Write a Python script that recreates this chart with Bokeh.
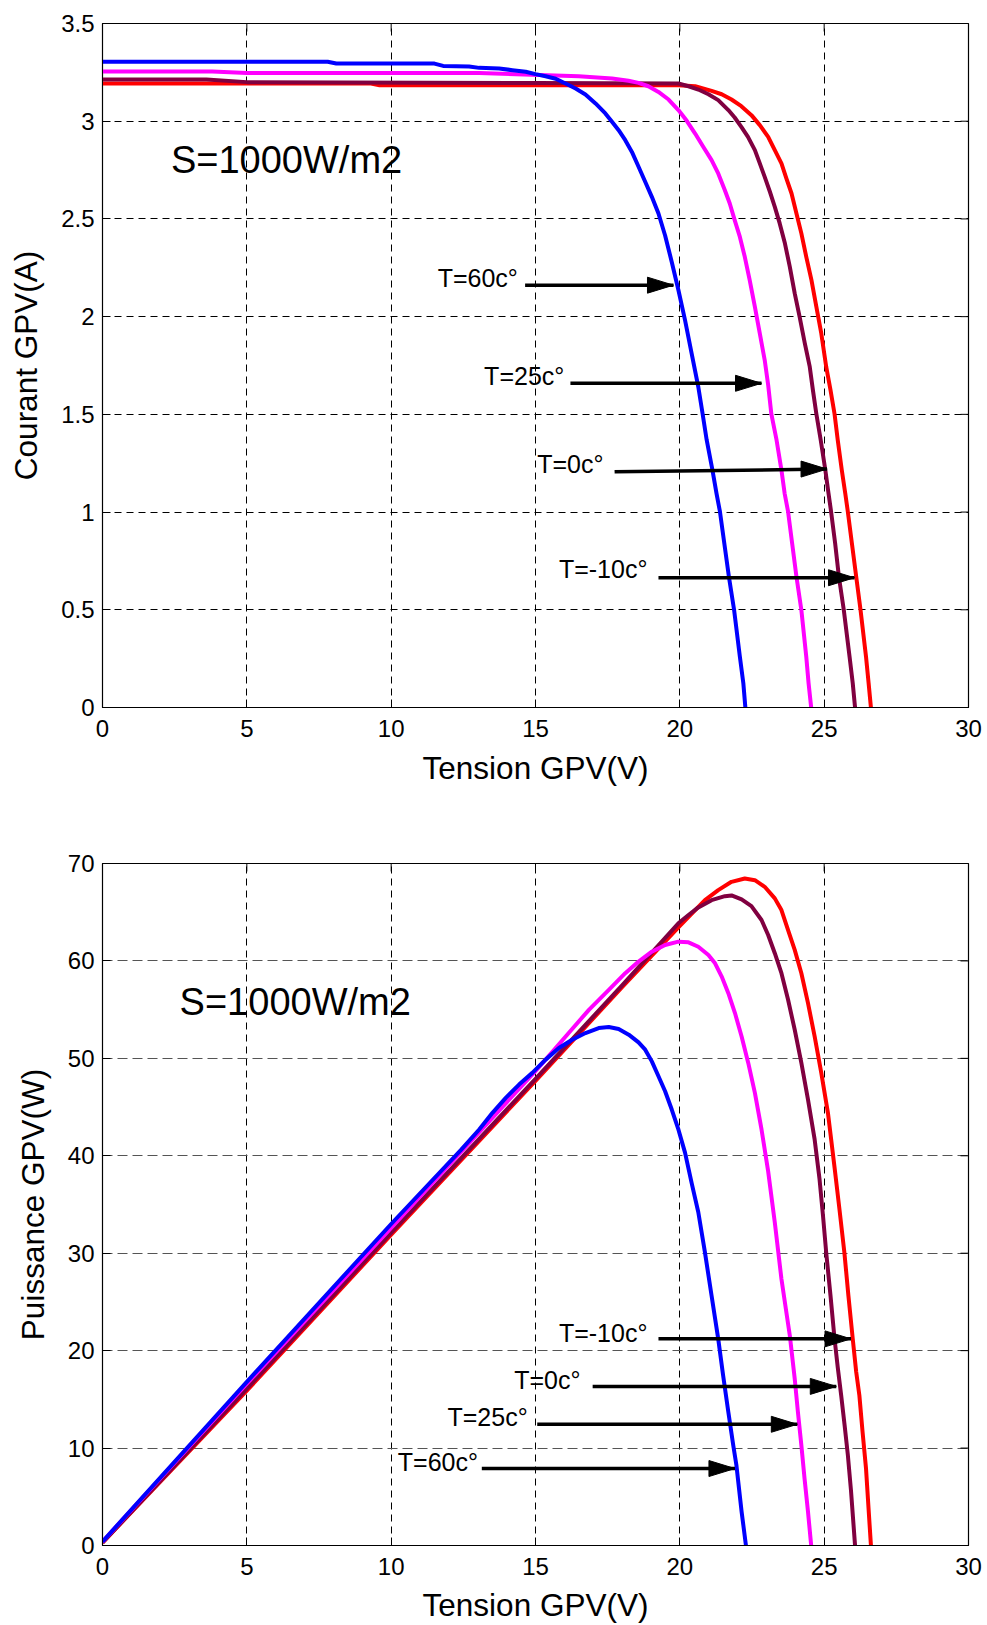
from bokeh.plotting import figure
from bokeh.layouts import column
from bokeh.models import Range1d, FixedTicker, NumeralTickFormatter
from bokeh.core.properties import value
from bokeh.embed import file_html
from bokeh.resources import INLINE

# ---------------- data ----------------
temps = ["T=-10c°", "T=0c°", "T=25c°", "T=60c°"]
colors = ["#FF0000", "#800040", "#FF00FF", "#0000FF"]

# I-V curves  (V, A)
iv_v_m10 = [0, 9.3, 9.6, 19.95, 20.53, 21.10, 21.45, 21.79, 22.13, 22.48, 22.77, 23.06, 23.29, 23.52, 23.69, 23.87, 24.04, 24.21, 24.38, 24.56, 24.73, 24.90, 25.07, 25.22, 25.36, 25.47, 25.61, 25.73, 25.82, 25.96, 26.11, 26.26, 26.45, 26.54, 26.62]
iv_i_m10 = [3.193, 3.193, 3.184, 3.184, 3.179, 3.155, 3.138, 3.111, 3.077, 3.031, 2.980, 2.920, 2.852, 2.784, 2.707, 2.630, 2.528, 2.426, 2.306, 2.187, 2.050, 1.914, 1.744, 1.624, 1.502, 1.369, 1.215, 1.096, 1.002, 0.840, 0.669, 0.499, 0.260, 0.124, 0.0]

iv_v_0 = [0, 3.6, 5.0, 15.0, 19.95, 20.30, 20.64, 20.99, 21.33, 21.68, 21.90, 22.13, 22.36, 22.60, 22.77, 22.94, 23.12, 23.29, 23.46, 23.64, 23.81, 23.98, 24.15, 24.33, 24.50, 24.61, 24.73, 24.88, 25.04, 25.15, 25.24, 25.38, 25.51, 25.68, 25.88, 25.99, 26.07]
iv_i_0 = [3.214, 3.214, 3.200, 3.195, 3.193, 3.179, 3.162, 3.138, 3.108, 3.057, 3.019, 2.971, 2.920, 2.852, 2.784, 2.715, 2.639, 2.562, 2.477, 2.375, 2.255, 2.119, 1.999, 1.863, 1.744, 1.624, 1.502, 1.369, 1.215, 1.096, 1.002, 0.840, 0.669, 0.499, 0.260, 0.124, 0.0]

iv_v_25 = [0, 3.8, 5.0, 13.05, 16.5, 17.65, 18.22, 18.57, 18.91, 19.26, 19.61, 19.95, 20.24, 20.53, 20.81, 21.10, 21.33, 21.56, 21.73, 21.90, 22.08, 22.25, 22.42, 22.60, 22.77, 22.94, 23.06, 23.17, 23.35, 23.52, 23.63, 23.75, 23.89, 24.04, 24.21, 24.38, 24.46, 24.55]
iv_i_25 = [3.255, 3.255, 3.247, 3.247, 3.230, 3.219, 3.207, 3.196, 3.179, 3.150, 3.111, 3.057, 3.002, 2.937, 2.869, 2.801, 2.733, 2.647, 2.579, 2.494, 2.408, 2.306, 2.187, 2.050, 1.914, 1.778, 1.650, 1.502, 1.369, 1.215, 1.096, 1.002, 0.840, 0.669, 0.499, 0.260, 0.124, 0.0]

iv_v_60 = [0, 7.8, 8.1, 11.5, 11.8, 12.7, 13.05, 13.74, 14.20, 14.66, 15.0, 15.35, 15.7, 16.04, 16.39, 16.73, 17.08, 17.42, 17.65, 17.88, 18.11, 18.34, 18.57, 18.80, 19.03, 19.26, 19.49, 19.72, 19.95, 20.18, 20.41, 20.64, 20.79, 20.93, 21.13, 21.27, 21.39, 21.54, 21.70, 21.88, 22.08, 22.20, 22.27]
iv_i_60 = [3.304, 3.304, 3.295, 3.295, 3.283, 3.280, 3.273, 3.270, 3.261, 3.253, 3.241, 3.230, 3.217, 3.193, 3.167, 3.137, 3.091, 3.040, 2.997, 2.954, 2.903, 2.843, 2.767, 2.690, 2.613, 2.528, 2.415, 2.280, 2.136, 1.982, 1.811, 1.640, 1.502, 1.369, 1.215, 1.096, 1.002, 0.840, 0.669, 0.499, 0.260, 0.124, 0.0]

# P-V curves  (V, W)
pv_v_m10 = [0, 5, 10, 15, 18, 20, 20.87, 21.33, 21.79, 22.25, 22.60, 22.94, 23.29, 23.52, 23.75, 23.98, 24.21, 24.44, 24.67, 24.90, 25.13, 25.36, 25.53, 25.70, 25.84, 25.99, 26.11, 26.22, 26.33, 26.45, 26.53, 26.62]
pv_p_m10 = [0.3, 15.9, 31.9, 47.7, 57.3, 63.6, 66.24, 67.27, 68.12, 68.46, 68.29, 67.61, 66.42, 65.22, 63.17, 61.13, 58.74, 55.67, 52.25, 48.51, 44.41, 38.8, 34.5, 30.08, 25.64, 21.21, 17.80, 15.40, 11.66, 7.90, 4.15, 0.0]

pv_v_0 = [0, 5, 10, 15, 18, 19.95, 20.30, 20.64, 21.10, 21.56, 21.79, 22.14, 22.48, 22.83, 23.06, 23.29, 23.52, 23.75, 23.98, 24.21, 24.44, 24.67, 24.84, 24.96, 25.07, 25.22, 25.36, 25.47, 25.59, 25.71, 25.82, 25.93, 26.07]
pv_p_0 = [0.3, 16.1, 32.1, 47.9, 57.5, 63.86, 64.71, 65.49, 66.24, 66.65, 66.72, 66.31, 65.63, 64.20, 62.66, 60.79, 58.74, 56.01, 52.94, 49.53, 45.77, 41.68, 37.58, 33.83, 30.08, 25.64, 21.21, 18.3, 15.4, 12.3, 9.3, 5.6, 0.0]

pv_v_25 = [0, 5, 10, 15, 15.35, 16.15, 16.85, 17.54, 18.11, 18.57, 19.03, 19.49, 19.95, 20.30, 20.64, 20.99, 21.22, 21.45, 21.68, 21.91, 22.14, 22.37, 22.60, 22.83, 23.06, 23.29, 23.52, 23.69, 23.81, 23.98, 24.09, 24.21, 24.32, 24.44, 24.55]
pv_p_25 = [0.4, 16.6, 32.6, 48.7, 49.87, 52.60, 54.98, 57.03, 58.74, 59.93, 60.95, 61.64, 61.98, 61.91, 61.46, 60.61, 59.76, 58.39, 56.69, 54.65, 52.25, 49.53, 46.46, 42.70, 38.4, 33.15, 27.35, 23.94, 21.55, 17.11, 13.71, 10.29, 6.88, 3.47, 0.0]

pv_v_60 = [0, 5, 10, 12.42, 13.05, 13.51, 13.97, 14.43, 14.89, 15.35, 15.81, 16.27, 16.73, 17.19, 17.54, 17.88, 18.23, 18.57, 18.80, 19.03, 19.26, 19.49, 19.72, 19.95, 20.18, 20.41, 20.64, 20.87, 21.10, 21.33, 21.50, 21.68, 21.85, 21.96, 22.14, 22.29]
pv_p_60 = [0.4, 16.8, 33.0, 40.6, 42.7, 44.41, 45.95, 47.31, 48.51, 49.87, 51.06, 51.91, 52.60, 53.11, 53.21, 53.01, 52.43, 51.64, 50.89, 49.69, 48.16, 46.62, 44.75, 42.70, 40.32, 37.2, 34.2, 30.08, 25.64, 21.21, 17.45, 13.71, 10.29, 8.24, 3.47, 0.0]

iv_series = [(iv_v_m10, iv_i_m10), (iv_v_0, iv_i_0), (iv_v_25, iv_i_25), (iv_v_60, iv_i_60)]
pv_series = [(pv_v_m10, pv_p_m10), (pv_v_0, pv_p_0), (pv_v_25, pv_p_25), (pv_v_60, pv_p_60)]

x_ticks = [0, 5, 10, 15, 20, 25, 30]
i_ticks = [0, 0.5, 1, 1.5, 2, 2.5, 3, 3.5]
p_ticks = [0, 10, 20, 30, 40, 50, 60, 70]

x_label = "Tension GPV(V)"
i_label = "Courant GPV(A)"
p_label = "Puissance GPV(W)"
irr_label = "S=1000W/m2"

# annotation positions (order: -10, 0, 25, 60); text y = vertical middle of the text
top_text_x = [15.81, 15.06, 13.22, 11.61]
top_text_y = [0.707, 1.247, 1.696, 2.199]
top_arr_x0 = [19.26, 17.74, 16.21, 14.64]
top_arr_x1 = [26.05, 25.10, 22.83, 19.78]
top_arr_y0 = [0.664, 1.206, 1.659, 2.161]
top_arr_y1 = [0.664, 1.220, 1.659, 2.161]
top_irr_pos = (2.37, 2.799)

bot_text_x = [15.81, 14.26, 11.95, 10.23]
bot_text_y = [21.85, 16.94, 13.19, 8.55]
bot_arr_x0 = [19.26, 16.98, 15.06, 13.14]
bot_arr_x1 = [25.93, 25.42, 24.07, 21.91]
bot_arr_y0 = [21.21, 16.33, 12.44, 7.90]
bot_arr_y1 = [21.21, 16.33, 12.44, 7.90]
bot_irr_pos = (2.67, 55.79)

FONT = "Liberation Sans"
FRAME_W = 866
FRAME_H = 684
TICK_PX = 8


def make_fig(height, btop, bbottom, ymax, yticks, ylabel, xlab_standoff, hcolor, hdash):
    p = figure(width=987, height=height, x_range=Range1d(0, 30), y_range=Range1d(0, ymax),
               output_backend="svg", toolbar_location=None,
               min_border_left=102, min_border_right=19, min_border_top=btop, min_border_bottom=bbottom)
    p.title.visible = False
    p.background_fill_color = "white"
    p.border_fill_color = "white"
    p.outline_line_color = "black"
    p.outline_line_width = 1.2

    p.xaxis.ticker = FixedTicker(ticks=x_ticks)
    p.yaxis.ticker = FixedTicker(ticks=yticks)
    p.xaxis.formatter = NumeralTickFormatter(format="0.[0]")
    p.yaxis.formatter = NumeralTickFormatter(format="0.[0]")
    for ax in (p.xaxis, p.yaxis):
        ax.major_tick_in = TICK_PX
        ax.major_tick_out = 0
        ax.minor_tick_line_color = None
        ax.axis_line_color = "black"
        ax.major_tick_line_color = "black"
        ax.major_label_text_font = FONT
        ax.major_label_text_font_size = "24px"
        ax.major_label_text_color = "black"
        ax.axis_label_text_font = FONT
        ax.axis_label_text_font_size = "31.5px"
        ax.axis_label_text_font_style = "normal"
        ax.axis_label_text_color = "black"
    p.xaxis.major_label_standoff = 12
    p.yaxis.major_label_standoff = 8
    p.xaxis.axis_label = x_label
    p.yaxis.axis_label = ylabel
    p.xaxis.axis_label_standoff = xlab_standoff
    p.yaxis.axis_label_standoff = 14

    p.xgrid.ticker = FixedTicker(ticks=x_ticks)
    p.ygrid.ticker = FixedTicker(ticks=yticks)
    p.xgrid.grid_line_color = "black"
    p.xgrid.grid_line_dash = "7 5"
    p.xgrid.grid_line_width = 1
    p.ygrid.grid_line_color = hcolor
    p.ygrid.grid_line_dash = hdash
    p.ygrid.grid_line_width = 1

    # mirrored inward ticks on the right and top edges of the box
    dx = TICK_PX * 30.0 / FRAME_W
    dy = TICK_PX * ymax / FRAME_H
    p.segment(x0=[30 - dx] * len(yticks), x1=[30] * len(yticks), y0=yticks, y1=yticks,
              line_color="black", line_width=1)
    p.segment(x0=x_ticks, x1=x_ticks, y0=[ymax - dy] * len(x_ticks), y1=[ymax] * len(x_ticks),
              line_color="black", line_width=1)
    return p


def add_arrows(p, x0, x1, y0, y1, ymax):
    p.segment(x0=x0, y0=y0, x1=x1, y1=y1, line_color="black", line_width=3.5)
    L = 26 * 30.0 / FRAME_W
    H = 8 * ymax / FRAME_H
    xs = [[a, a - L, a - L] for a in x1]
    ys = [[b, b + H, b - H] for b in y1]
    p.patches(xs=xs, ys=ys, fill_color="black", line_color="black", line_width=1)


def add_texts(p, tx, ty, irr):
    p.text(x=tx, y=ty, text=temps, text_font=value(FONT), text_font_size="25px",
           text_baseline="middle", text_align="left", text_color="black")
    p.text(x=[irr[0]], y=[irr[1]], text=[irr_label], text_font=value(FONT), text_font_size="38px",
           text_baseline="middle", text_align="left", text_color="black")


# ---------------- top: I-V ----------------
p1 = make_fig(807, 23, 100, 3.5, i_ticks, i_label, 10, "black", "7 5")
for (vx, iy), c in zip(iv_series, colors):
    p1.line(vx, iy, line_color=c, line_width=4, line_join="round")
add_arrows(p1, top_arr_x0, top_arr_x1, top_arr_y0, top_arr_y1, 3.5)
add_texts(p1, top_text_x, top_text_y, top_irr_pos)

# ---------------- bottom: P-V ----------------
p2 = make_fig(818, 56, 78, 70, p_ticks, p_label, 9, "#555555", "10 5")
for (vx, py), c in zip(pv_series, colors):
    p2.line(vx, py, line_color=c, line_width=4, line_join="round")
add_arrows(p2, bot_arr_x0, bot_arr_x1, bot_arr_y0, bot_arr_y1, 70)
add_texts(p2, bot_text_x, bot_text_y, bot_irr_pos)

layout = column(p1, p2, spacing=0)
open("out.html", "w").write(file_html(layout, INLINE))
